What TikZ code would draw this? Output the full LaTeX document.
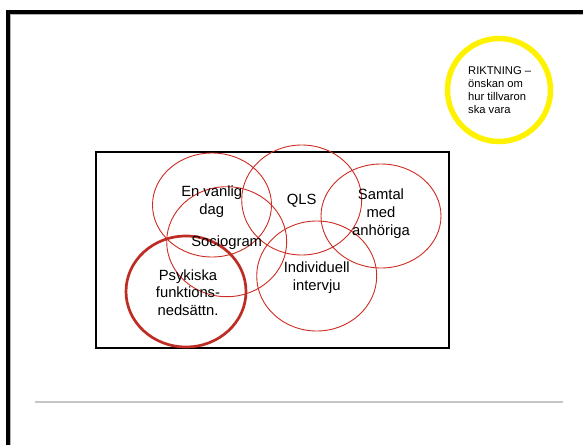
\documentclass[tikz,border=0pt]{standalone}
\usepackage{fontspec}
\setmainfont{Liberation Sans}
\definecolor{ringred}{RGB}{205,45,35}
\definecolor{ringdark}{RGB}{190,45,35}
\begin{document}
\begin{tikzpicture}[x=1pt,y=-1pt,
  ring/.style={draw=ringred, line width=0.9pt},
  ringbold/.style={draw=ringdark, line width=2.7pt},
  lbl/.style={align=center, font=\fontsize{14.8}{17.7}\selectfont, inner sep=0pt},
  note/.style={align=left, font=\fontsize{11.2}{13}\selectfont, inner sep=0pt}]
  \useasboundingbox (0,0) rectangle (583,444);
  \fill[white] (0,0) rectangle (583,444);
  % slide frame
  \draw[black, line width=4pt] (7.5,460) -- (7.5,12) -- (600,12);
  \draw[gray!60, line width=0.8pt] (10.2,460) -- (10.2,14.6) -- (600,14.6);
  % footer rule
  \draw[gray!45, line width=1.3pt] (35,402) -- (563,402);
  % direction note
  \node[draw=yellow, line width=5.5pt, circle, minimum size=103pt, inner sep=0pt] (goal) at (499,90) {};
  \node[note, anchor=north west] (goaltext) at (468,66.5) {RIKTNING –\\önskan om\\hur tillvaron\\ska vara};
  % box with overlapping methods
  \node[draw=black, line width=1.6pt, minimum width=353pt, minimum height=196pt, inner sep=0pt, anchor=north west] (box) at (95,151) {};
  \draw[ring] (212,205) ellipse [x radius=59.5, y radius=52] node (dag) {};
  \draw[ring] (301.7,200) ellipse [x radius=60, y radius=55] node (qls) {};
  \draw[ring] (381,216) ellipse [x radius=60, y radius=52] node (samtal) {};
  \draw[ring] (226.7,241.7) ellipse [x radius=60, y radius=55] node (socio) {};
  \draw[ring] (316.7,276) ellipse [x radius=60, y radius=55] node (indiv) {};
  \draw[ringbold] (186,291.5) ellipse [x radius=60, y radius=55.5] node (psyk) {};
  \node[lbl] (tdag) at (211.7,202) {En vanlig\\dag};
  \node[lbl] (tqls) at (301.7,201) {QLS};
  \node[lbl] (tsamtal) at (381,213.5) {Samtal\\med\\anhöriga};
  \node[lbl] (tsocio) at (226.7,243) {Sociogram};
  \node[lbl] (tpsyk) at (188,292.5) {Psykiska\\funktions-\\nedsättn.};
  \node[lbl] (tindiv) at (316.7,278) {Individuell\\intervju};
\end{tikzpicture}
\end{document}
